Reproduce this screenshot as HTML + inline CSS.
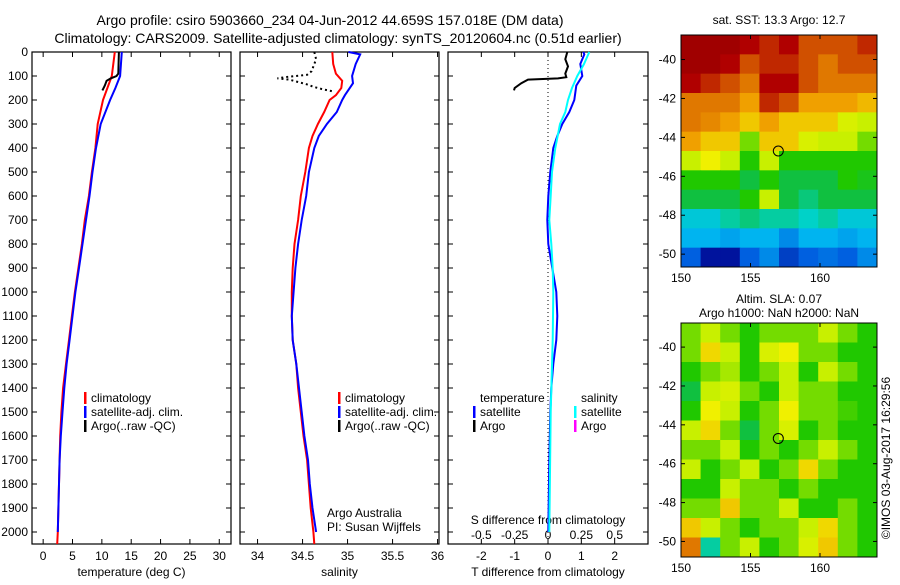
<!DOCTYPE html>
<html><head><meta charset="utf-8"><style>
body{margin:0;background:#fff;}
svg{font-family:"Liberation Sans",sans-serif;}
</style></head><body>
<svg id="fig" width="900" height="580" xmlns="http://www.w3.org/2000/svg">
<text x="330" y="25" font-size="14" text-anchor="middle">Argo profile: csiro 5903660_234 04-Jun-2012 44.659S 157.018E (DM data)</text>
<text x="338" y="43" font-size="14" text-anchor="middle">Climatology: CARS2009. Satellite-adjusted climatology: synTS_20120604.nc (0.51d earlier)</text>
<text x="779" y="24" font-size="12" text-anchor="middle">sat. SST: 13.3 Argo: 12.7</text>
<text x="779" y="303" font-size="12" text-anchor="middle">Altim. SLA: 0.07</text>
<text x="779" y="317" font-size="12" text-anchor="middle">Argo h1000: NaN h2000: NaN</text>
<text transform="translate(890,458) rotate(-90)" font-size="12" text-anchor="middle">©IMOS 03-Aug-2017 16:29:56</text>
<g id="layer"></g>
</svg>
<script>
// ---------- data ----------
const depthTicks=[0,100,200,300,400,500,600,700,800,900,1000,1100,1200,1300,1400,1500,1600,1700,1800,1900,2000];
const tempTicks=[0,5,10,15,20,25,30];
const salTicks=[34,34.5,35,35.5,36];
const tdiffTicks=[-2,-1,0,1,2];
const sdiffTicks=[-0.5,-0.25,0,0.25,0.5];
const sdiffLabels=["-0.5","-0.25","0","0.25","0.5"];
const lonTicks=[150,155,160];
const latTicks=[-40,-42,-44,-46,-48,-50];

const tClimDepth=[0,100,200,300,400,500,600,700,800,900,1000,1100,1200,1300,1400,1500,1600,1700,1800,1900,2000,2050];
const tClim=[12.2,11.7,10.2,9.3,8.9,8.3,7.8,7.1,6.6,6.0,5.4,4.9,4.4,3.9,3.4,3.1,2.9,2.8,2.7,2.6,2.5,2.4];
const tSatDepth=[0,100,150,200,300,400,500,600,700,800,900,1000,1100,1200,1300,1400,1500,1600,1700,1800,1900,2000];
const tSat=[13.4,13.1,12.3,11.4,9.8,9.0,8.4,7.9,7.3,6.7,6.1,5.5,5.0,4.5,4.0,3.6,3.3,3.0,2.8,2.7,2.6,2.5];
const tArgoDepth=[0,90,100,110,120,140,160];
const tArgo=[12.9,12.8,12.5,11.5,10.8,10.5,10.1];

const sClimDepth=[0,50,90,120,150,180,200,250,300,350,400,500,600,700,800,900,1000,1100,1200,1300,1400,1500,1600,1700,1800,1900,2000,2050];
const sClim=[34.83,34.84,34.87,34.94,34.93,34.87,34.80,34.74,34.67,34.61,34.57,34.53,34.48,34.45,34.41,34.39,34.38,34.38,34.39,34.43,34.45,34.48,34.51,34.55,34.57,34.59,34.62,34.63];
const sSatDepth=[0,10,50,100,130,180,200,250,300,350,400,500,600,700,800,900,1000,1100,1200,1300,1400,1500,1600,1700,1800,1900,2000];
const sSat=[35.01,35.14,35.09,35.05,35.06,34.97,34.94,34.88,34.77,34.68,34.63,34.57,34.54,34.49,34.45,34.42,34.40,34.38,34.39,34.43,34.46,34.49,34.52,34.56,34.58,34.61,34.65];
const sArgoDepth=[0,30,60,80,95,105,110,115,125,135,145,155,165];
const sArgo=[34.63,34.65,34.62,34.60,34.55,34.30,34.22,34.35,34.45,34.55,34.62,34.72,34.85];

const dTDepth=[0,10,50,100,140,200,250,300,350,400,500,600,700,800,900,1000,1100,1200,1300,1400,1500,1700,2000];
const dTSat=[1.06,1.09,0.97,1.03,0.85,0.79,0.64,0.43,0.28,0.16,0.07,0.01,-0.02,0.01,0.13,0.25,0.28,0.25,0.16,0.10,0.07,0.04,0.01];
const dSDepth=[0,50,100,150,200,250,300,400,500,600,700,800,900,1000,1200,1500,2000];
const dSSat=[0.31,0.27,0.22,0.18,0.15,0.13,0.09,0.055,0.03,0.02,0.01,0.025,0.035,0.04,0.035,0.02,0.01];
const dTArgoDepth=[0,30,60,90,105,110,115,130,150,160];
const dTArgo=[0.58,0.52,0.6,0.52,0.55,0.3,-0.6,-0.8,-1.0,-1.02];

const sstGrid=[
[1,1,1,.95,.9,.95,.85,.85,.85,.9],
[1,1,.95,.85,.9,.9,.85,.8,.85,.85],
[.95,.9,.85,.8,.95,.95,.85,.8,.8,.8],
[.8,.8,.8,.75,.9,.85,.75,.75,.75,.72],
[.8,.78,.75,.7,.75,.7,.7,.7,.62,.6],
[.75,.7,.7,.55,.7,.7,.62,.6,.6,.55],
[.6,.65,.6,.5,.6,.5,.5,.5,.5,.5],
[.5,.5,.5,.45,.5,.45,.45,.45,.5,.48],
[.45,.45,.45,.5,.6,.45,.42,.45,.45,.45],
[.35,.35,.4,.42,.4,.4,.38,.4,.35,.35],
[.3,.3,.28,.3,.3,.25,.3,.3,.28,.3],
[.2,.08,.08,.2,.25,.15,.2,.22,.2,.25]];
const slaGrid=[
[.55,.6,.55,.5,.55,.55,.55,.6,.55,.5],
[.55,.68,.6,.5,.62,.65,.55,.55,.5,.5],
[.5,.55,.58,.5,.55,.6,.5,.6,.55,.5],
[.45,.6,.62,.55,.5,.6,.55,.55,.5,.5],
[.5,.65,.6,.5,.55,.65,.55,.55,.52,.5],
[.6,.68,.55,.45,.55,.62,.5,.55,.5,.5],
[.55,.55,.6,.5,.55,.5,.55,.6,.55,.5],
[.6,.5,.55,.6,.5,.55,.68,.55,.5,.5],
[.5,.5,.6,.55,.55,.5,.55,.5,.5,.5],
[.55,.55,.7,.55,.55,.6,.5,.5,.55,.5],
[.7,.6,.55,.5,.55,.55,.6,.68,.55,.5],
[.8,.4,.55,.6,.5,.55,.62,.7,.55,.5]];
const argoLon=[157.0], argoLat=[-44.7];

// ---------- helpers ----------
const NS="http://www.w3.org/2000/svg";
const layer=document.getElementById('layer');
function mk(tag,attrs,parent){const e=document.createElementNS(NS,tag);for(const k in attrs)e.setAttribute(k,attrs[k]);(parent||layer).appendChild(e);return e;}
function lin(d0,d1,r0,r1){return v=>r0+(v-d0)*(r1-r0)/(d1-d0);}
const yD=lin(0,2050,52,544);

function profilePanel(name,x0,x1,xmin,xmax,xt,xl,xlabel){
  const g=mk('g',{});
  
  
  const xs=lin(xmin,xmax,x0,x1);
  const fr=mk('rect',{x:x0,y:52,width:x1-x0,height:492,fill:'none',stroke:'#000','stroke-width':1.2},g);
  
  
  depthTicks.forEach(d=>{const y=yD(d);
    mk('line',{x1:x0,x2:x0+5,y1:y,y2:y,stroke:'#000'},g);
    mk('line',{x1:x1-5,x2:x1,y1:y,y2:y,stroke:'#000'},g);});
  xt.forEach((v,i)=>{const x=xs(v);
    mk('line',{x1:x,x2:x,y1:52,y2:57,stroke:'#000'},g);
    mk('line',{x1:x,x2:x,y1:539,y2:544,stroke:'#000'},g);
    if(xl){const t=mk('text',{x:x,y:560,'font-size':12,'text-anchor':'middle'},g);t.textContent=xl[i];
      
      }});
  const t=mk('text',{x:(x0+x1)/2,y:576,'font-size':12,'text-anchor':'middle'},g);t.textContent=xlabel;
  
  
  return {g,xs};
}
function line(g,xs,depths,vals,color,w,dash,name){
  const pts=depths.map((d,i)=>xs(vals[i]).toFixed(1)+','+yD(d).toFixed(1)).join(' ');
  const p=mk('polyline',{points:pts,fill:'none',stroke:color,'stroke-width':w},g);
  if(dash)p.setAttribute('stroke-dasharray',dash);
  
  
}
function legend(g,x,y,items){
  items.forEach((it,i)=>{
    mk('rect',{x:x,y:y+i*14-10,width:2.5,height:12,fill:it[1]},g);
    const t=mk('text',{x:x+7,y:y+i*14,'font-size':12},g);t.textContent=it[0];
    
    
  });
}

depthTicks.forEach(d=>{const t=mk('text',{x:28,y:yD(d)+4,'font-size':12,'text-anchor':'end'});t.textContent=d;
  
  });

let P=profilePanel('temperature-panel',32,231,-1.9,32,tempTicks,tempTicks.map(String),'temperature (deg C)');
line(P.g,P.xs,tClimDepth,tClim,'#f00',2,null,'temp-climatology-line');
line(P.g,P.xs,tSatDepth,tSat,'#00f',2,null,'temp-satellite-line');
line(P.g,P.xs,tArgoDepth,tArgo,'#000',2,null,'temp-argo-line');
legend(P.g,84,402,[['climatology','#f00'],['satellite-adj. clim.','#00f'],['Argo(..raw -QC)','#000']]);

P=profilePanel('salinity-panel',240,439,33.805,36.016,salTicks,salTicks.map(String),'salinity');
line(P.g,P.xs,sClimDepth,sClim,'#f00',2,null,'sal-climatology-line');
line(P.g,P.xs,sSatDepth,sSat,'#00f',2,null,'sal-satellite-line');
line(P.g,P.xs,sArgoDepth,sArgo,'#000',2,'2,3','sal-argo-line');
legend(P.g,338,402,[['climatology','#f00'],['satellite-adj. clim.','#00f'],['Argo(..raw -QC)','#000']]);
let t=mk('text',{x:327,y:517,'font-size':12},P.g);t.textContent='Argo Australia';

t=mk('text',{x:327,y:531,'font-size':12},P.g);t.textContent='PI: Susan Wijffels';


P=profilePanel('difference-panel',448,648,-3,3,tdiffTicks,tdiffTicks.map(String),'T difference from climatology');
mk('line',{x1:P.xs(0),x2:P.xs(0),y1:52,y2:544,stroke:'#000','stroke-dasharray':'1,3'},P.g);
const sx=v=>P.xs(v*4);
sdiffTicks.forEach((v,i)=>{const tt=mk('text',{x:sx(v),y:539,'font-size':12,'text-anchor':'middle'},P.g);tt.textContent=sdiffLabels[i];
  });
t=mk('text',{x:548,y:524,'font-size':12,'text-anchor':'middle'},P.g);t.textContent='S difference from climatology';

line(P.g,P.xs,dTDepth,dTSat,'#00f',2,null,'tdiff-satellite-line');
line(P.g,sx,dSDepth,dSSat,'#0ff',2,null,'sdiff-satellite-line');
line(P.g,P.xs,dTArgoDepth,dTArgo,'#000',2,null,'tdiff-argo-line');
legend(P.g,473,402,[['temperature','none'],['satellite','#00f'],['Argo','#000']]);
legend(P.g,574,402,[['   salinity','none'],['satellite','#0ff'],['Argo','#f0f']]);

// colour palette (value -> colour stops)
const stops=[[0,[0,0,120]],[0.05,[0,0,140]],[0.2,[0,96,224]],[0.3,[0,180,240]],[0.38,[0,210,200]],[0.45,[16,192,64]],[0.5,[32,200,0]],[0.6,[200,240,0]],[0.65,[240,240,0]],[0.75,[240,160,0]],[0.85,[208,80,0]],[0.95,[176,0,0]],[1,[160,0,0]]];
function pal(v){v=Math.max(0,Math.min(1,v));
  for(let i=1;i<stops.length;i++){if(v<=stops[i][0]){const a=stops[i-1],b=stops[i],f=(v-a[0])/(b[0]-a[0]);
    const c=a[1].map((x,k)=>Math.round(x+(b[1][k]-x)*f));return `rgb(${c[0]},${c[1]},${c[2]})`;}}
  return 'rgb(160,0,0)';}
function mapPanel(name,grid,y0,y1,latTop,latBot){
  const g=mk('g',{});
  
  
  const x0=681,x1=877,lonR=164.1;
  const xs=lin(150,lonR,x0,x1), ys=lin(latTop,latBot,y0,y1);
  const rows=grid.length,cols=grid[0].length,cw=(x1-x0)/cols,ch=(y1-y0)/rows;
  grid.forEach((row,r)=>row.forEach((v,c)=>{
    const cell=mk('rect',{x:x0+c*cw,y:y0+r*ch,width:cw+0.5,height:ch+0.5,fill:pal(v)},g);
    
    }));
  mk('rect',{x:x0,y:y0,width:x1-x0,height:y1-y0,fill:'none',stroke:'#000'},g);
  lonTicks.forEach(v=>{const x=xs(v);mk('line',{x1:x,x2:x,y1:y1,y2:y1-4,stroke:'#000'},g);mk('line',{x1:x,x2:x,y1:y0,y2:y0+4,stroke:'#000'},g);
    const tt=mk('text',{x:x,y:y1+15,'font-size':12,'text-anchor':'middle'},g);tt.textContent=v;
    });
  latTicks.forEach(v=>{const y=ys(v);if(y<y0||y>y1)return;mk('line',{x1:x0,x2:x0+4,y1:y,y2:y,stroke:'#000'},g);mk('line',{x1:x1-4,x2:x1,y1:y,y2:y,stroke:'#000'},g);
    const tt=mk('text',{x:x0-5,y:y+4,'font-size':12,'text-anchor':'end'},g);tt.textContent=v;
    });
  const c=mk('circle',{cx:xs(argoLon[0]),cy:ys(argoLat[0]),r:5,fill:'none',stroke:'#000'},g);
  
  
}
mapPanel('sst-map',sstGrid,35,267,-38.74,-50.66);
mapPanel('sla-map',slaGrid,323,557,-38.76,-50.8);
</script>
</body></html>
